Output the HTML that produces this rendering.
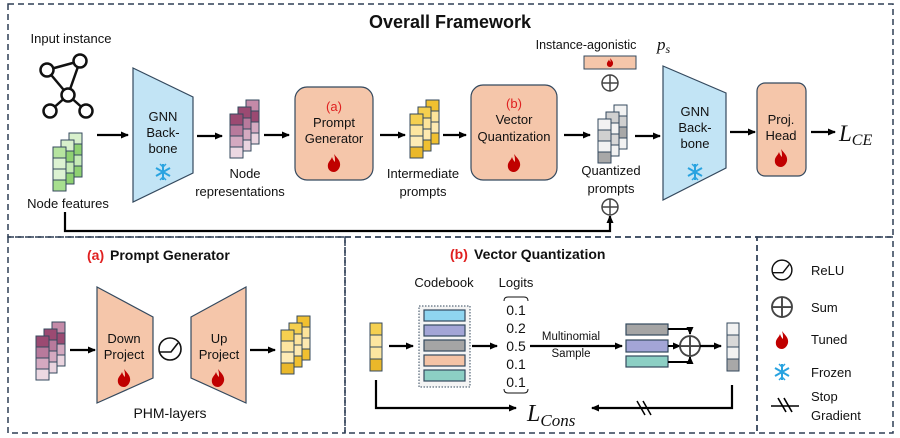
<!DOCTYPE html>
<html><head><meta charset="utf-8"><style>
html,body{margin:0;padding:0;background:#fff}
svg{display:block}
text{font-family:"Liberation Sans",sans-serif;fill:#111}
.b{font-weight:bold}
.m{font-family:"Liberation Serif",serif;font-style:italic}
</style></head><body>
<svg width="900" height="438" viewBox="0 0 900 438" xmlns="http://www.w3.org/2000/svg">
<defs>
<marker id="ar" markerWidth="8" markerHeight="8" refX="7" refY="4" orient="auto" markerUnits="userSpaceOnUse"><path d="M0,0.5 L8,4 L0,7.5Z" fill="#000"/></marker>
<g id="flame"><path d="M0,-9 C3,-5 7,-2 6,3 C5,7 2,9 0,9 C-4,9 -7,6 -6,1 C-5,-2 -3,-3 -2,-6 C-1,-3 0,-2 1,-1 C1,-4 1,-6 0,-9Z" fill="#c00000"/></g>
<g id="snow" stroke="#29a3e0" stroke-width="2" fill="none"><line x1="0" y1="-8" x2="0" y2="8"/><line x1="-7" y1="-4" x2="7" y2="4"/><line x1="-7" y1="4" x2="7" y2="-4"/><path d="M-3,-8 L0,-5 L3,-8 M-3,8 L0,5 L3,8" stroke-width="1.5"/></g>
<g id="plus"><circle r="8" fill="#fff" stroke="#444" stroke-width="1.5"/><line x1="-8" y1="0" x2="8" y2="0" stroke="#444" stroke-width="1.5"/><line x1="0" y1="-8" x2="0" y2="8" stroke="#444" stroke-width="1.5"/></g>
<g id="relu"><circle r="11" fill="#fff" stroke="#111" stroke-width="1.6"/><path d="M-10,3 L1,3 L8,-6" fill="none" stroke="#111" stroke-width="1.6"/></g>
<g id="col" stroke="#34495e" stroke-width="1"></g>
<g id="pstack" stroke="#34495e" stroke-width="1">
<rect x="16" y="0" width="13" height="11" fill="#c48aa8"/><rect x="16" y="11" width="13" height="11" fill="#9b4a72"/><rect x="16" y="22" width="13" height="11" fill="#d4a9c0"/><rect x="16" y="33" width="13" height="11" fill="#ead4df"/>
<rect x="8" y="7" width="13" height="11" fill="#9b4a72"/><rect x="8" y="18" width="13" height="11" fill="#b87a9c"/><rect x="8" y="29" width="13" height="11" fill="#d4a9c0"/><rect x="8" y="40" width="13" height="11" fill="#ead4df"/>
<rect x="0" y="14" width="13" height="11" fill="#9b4a72"/><rect x="0" y="25" width="13" height="11" fill="#b87a9c"/><rect x="0" y="36" width="13" height="11" fill="#d4a9c0"/><rect x="0" y="47" width="13" height="11" fill="#ecd8e2"/>
</g>
<g id="ystack" stroke="#34495e" stroke-width="1">
<rect x="16" y="0" width="13" height="11" fill="#f0c030"/><rect x="16" y="11" width="13" height="11" fill="#fde49a"/><rect x="16" y="22" width="13" height="11" fill="#fde9b0"/><rect x="16" y="33" width="13" height="11" fill="#f0c030"/>
<rect x="8" y="7" width="13" height="11" fill="#f5cf4e"/><rect x="8" y="18" width="13" height="11" fill="#fde49a"/><rect x="8" y="29" width="13" height="11" fill="#fde9b0"/><rect x="8" y="40" width="13" height="11" fill="#f0c030"/>
<rect x="0" y="14" width="13" height="11" fill="#f5d050"/><rect x="0" y="25" width="13" height="11" fill="#fde6a0"/><rect x="0" y="36" width="13" height="11" fill="#fdebb5"/><rect x="0" y="47" width="13" height="11" fill="#eab82a"/>
</g>
<g id="gstack" stroke="#34495e" stroke-width="1">
<rect x="16" y="0" width="13" height="11" fill="#d8f0cc"/><rect x="16" y="11" width="13" height="11" fill="#8fd172"/><rect x="16" y="22" width="13" height="11" fill="#c6ebb6"/><rect x="16" y="33" width="13" height="11" fill="#8fd172"/>
<rect x="8" y="7" width="13" height="11" fill="#d8f0cc"/><rect x="8" y="18" width="13" height="11" fill="#8fd172"/><rect x="8" y="29" width="13" height="11" fill="#c6ebb6"/><rect x="8" y="40" width="13" height="11" fill="#8fd172"/>
<rect x="0" y="14" width="13" height="11" fill="#b6e4a0"/><rect x="0" y="25" width="13" height="11" fill="#dcf2d2"/><rect x="0" y="36" width="13" height="11" fill="#dcf2d2"/><rect x="0" y="47" width="13" height="11" fill="#a7df8f"/>
</g>
<g id="qstack" stroke="#34495e" stroke-width="1">
<rect x="16" y="0" width="13" height="11" fill="#f2f2f2"/><rect x="16" y="11" width="13" height="11" fill="#d0d0d0"/><rect x="16" y="22" width="13" height="11" fill="#a8a8a8"/><rect x="16" y="33" width="13" height="11" fill="#f2f2f2"/>
<rect x="8" y="7" width="13" height="11" fill="#d0d0d0"/><rect x="8" y="18" width="13" height="11" fill="#f2f2f2"/><rect x="8" y="29" width="13" height="11" fill="#d8d8d8"/><rect x="8" y="40" width="13" height="11" fill="#f2f2f2"/>
<rect x="0" y="14" width="13" height="11" fill="#f2f2f2"/><rect x="0" y="25" width="13" height="11" fill="#d0d0d0"/><rect x="0" y="36" width="13" height="11" fill="#f2f2f2"/><rect x="0" y="47" width="13" height="11" fill="#a8a8a8"/>
</g>
</defs>

<!-- frames -->
<g fill="none" stroke="#2f3f55" stroke-width="1.5" stroke-dasharray="6,4">
<rect x="8" y="4" width="885" height="233"/>
<rect x="8" y="237" width="337" height="196"/>
<rect x="345" y="237" width="412" height="196"/>
<rect x="757" y="237" width="136" height="196"/>
</g>

<text x="450" y="28" font-size="18" class="b" text-anchor="middle">Overall Framework</text>

<!-- input graph -->
<text x="71" y="43" font-size="13" text-anchor="middle">Input instance</text>
<g stroke="#111" stroke-width="2.5" fill="#fff">
<line x1="47" y1="70" x2="80" y2="61"/><line x1="80" y1="61" x2="68" y2="95"/><line x1="47" y1="70" x2="68" y2="95"/><line x1="68" y1="95" x2="50" y2="111"/><line x1="68" y1="95" x2="86" y2="111"/>
<circle cx="47" cy="70" r="6.5"/><circle cx="80" cy="61" r="6.5"/><circle cx="68" cy="95" r="6.5"/><circle cx="50" cy="111" r="6.5"/><circle cx="86" cy="111" r="6.5"/>
</g>
<use href="#gstack" x="53" y="133"/>
<text x="68" y="208" font-size="13" text-anchor="middle">Node features</text>

<g stroke="#000" stroke-width="2.2" fill="none" marker-end="url(#ar)">
<line x1="97" y1="135" x2="128" y2="135"/>
<line x1="197" y1="136" x2="222" y2="136"/>
<line x1="264" y1="135" x2="289" y2="135"/>
<line x1="380" y1="135" x2="405" y2="135"/>
<line x1="443" y1="135" x2="466" y2="135"/>
<line x1="564" y1="135" x2="590" y2="135"/>
<line x1="635" y1="136" x2="660" y2="136"/>
<line x1="730" y1="132" x2="755" y2="132"/>
<line x1="811" y1="132" x2="835" y2="132"/>
<polyline points="65,212 65,231 610,231 610,216"/>
</g>

<!-- GNN 1 -->
<polygon points="133,68 193,97 193,173 133,202" fill="#c2e4f5" stroke="#34495e" stroke-width="1.2"/>
<text x="163" y="121" font-size="13" text-anchor="middle">GNN</text>
<text x="163" y="137" font-size="13" text-anchor="middle">Back-</text>
<text x="163" y="153" font-size="13" text-anchor="middle">bone</text>
<use href="#snow" x="163" y="172"/>

<use href="#pstack" x="230" y="100"/>
<text x="245" y="178" font-size="13" text-anchor="middle">Node</text>
<text x="240" y="196" font-size="13" text-anchor="middle">representations</text>

<rect x="295" y="87" width="78" height="93" rx="12" fill="#f5c6aa" stroke="#34495e" stroke-width="1.2"/>
<text x="334" y="111" font-size="13" fill="#e02020" style="fill:#e02020" text-anchor="middle">(a)</text>
<text x="334" y="127" font-size="13" text-anchor="middle">Prompt</text>
<text x="334" y="143" font-size="13" text-anchor="middle">Generator</text>
<use href="#flame" x="334" y="163"/>

<use href="#ystack" x="410" y="100"/>
<text x="423" y="178" font-size="13" text-anchor="middle">Intermediate</text>
<text x="423" y="196" font-size="13" text-anchor="middle">prompts</text>

<rect x="471" y="85" width="86" height="95" rx="12" fill="#f5c6aa" stroke="#34495e" stroke-width="1.2"/>
<text x="514" y="108" font-size="13" style="fill:#e02020" text-anchor="middle">(b)</text>
<text x="514" y="124" font-size="13" text-anchor="middle">Vector</text>
<text x="514" y="141" font-size="13" text-anchor="middle">Quantization</text>
<use href="#flame" x="514" y="163"/>

<text x="586" y="49" font-size="12.5" text-anchor="middle">Instance-agonistic</text>
<text x="657" y="50" font-size="17" class="m">p<tspan font-size="12" dy="3">s</tspan></text>
<rect x="584" y="56" width="52" height="13" fill="#f5c6aa" stroke="#34495e" stroke-width="1"/>
<use href="#flame" x="610" y="62.5" transform="translate(610,62.5) scale(0.5) translate(-610,-62.5)"/>
<use href="#plus" x="610" y="83"/>
<use href="#qstack" x="598" y="105"/>
<text x="611" y="175" font-size="13" text-anchor="middle">Quantized</text>
<text x="611" y="193" font-size="13" text-anchor="middle">prompts</text>
<use href="#plus" x="610" y="207"/>

<polygon points="663,66 726,93 726,168 663,200" fill="#c2e4f5" stroke="#34495e" stroke-width="1.2"/>
<text x="695" y="116" font-size="13" text-anchor="middle">GNN</text>
<text x="695" y="132" font-size="13" text-anchor="middle">Back-</text>
<text x="695" y="148" font-size="13" text-anchor="middle">bone</text>
<use href="#snow" x="695" y="172"/>

<rect x="757" y="83" width="49" height="93" rx="8" fill="#f5c6aa" stroke="#34495e" stroke-width="1.2"/>
<text x="781" y="124" font-size="13" text-anchor="middle">Proj.</text>
<text x="781" y="140" font-size="13" text-anchor="middle">Head</text>
<use href="#flame" x="781" y="158"/>
<text x="839" y="141" font-size="23" class="m">L<tspan font-size="16" dy="4">CE</tspan></text>

<!-- (a) prompt generator -->
<text x="87" y="260" font-size="14" class="b" style="fill:#e02020">(a)</text>
<text x="110" y="260" font-size="14" class="b">Prompt Generator</text>
<use href="#pstack" x="36" y="322"/>
<polygon points="97,287 153,317 153,378 97,403" fill="#f5c6aa" stroke="#34495e" stroke-width="1.2"/>
<text x="124" y="343" font-size="13" text-anchor="middle">Down</text>
<text x="124" y="359" font-size="13" text-anchor="middle">Project</text>
<use href="#flame" x="124" y="378"/>
<use href="#relu" x="170" y="349"/>
<polygon points="191,317 246,287 246,403 191,378" fill="#f5c6aa" stroke="#34495e" stroke-width="1.2"/>
<text x="219" y="343" font-size="13" text-anchor="middle">Up</text>
<text x="219" y="359" font-size="13" text-anchor="middle">Project</text>
<use href="#flame" x="218" y="378"/>
<use href="#ystack" x="281" y="316"/>
<text x="170" y="418" font-size="14" text-anchor="middle">PHM-layers</text>
<g stroke="#000" stroke-width="2.2" marker-end="url(#ar)"><line x1="70" y1="350" x2="95" y2="350"/><line x1="250" y1="350" x2="275" y2="350"/></g>

<!-- (b) VQ -->
<text x="450" y="259" font-size="14" class="b" style="fill:#e02020">(b)</text>
<text x="474" y="259" font-size="14" class="b">Vector Quantization</text>
<text x="444" y="287" font-size="13" text-anchor="middle">Codebook</text>
<text x="516" y="287" font-size="13" text-anchor="middle">Logits</text>
<g stroke="#34495e" stroke-width="1"><rect x="370" y="323" width="12" height="12" fill="#f5d050"/><rect x="370" y="335" width="12" height="12" fill="#fde6a0"/><rect x="370" y="347" width="12" height="12" fill="#fde6a0"/><rect x="370" y="359" width="12" height="12" fill="#eab82a"/></g>
<rect x="419" y="306" width="51" height="81" fill="#f4f4f4" stroke="#34495e" stroke-width="1" stroke-dasharray="1.5,1.5"/>
<g stroke="#34495e" stroke-width="1.2">
<rect x="424" y="310" width="41" height="11" fill="#8fd5f0"/><rect x="424" y="325" width="41" height="11" fill="#a3a5d6"/><rect x="424" y="340" width="41" height="11" fill="#a5a5a5"/><rect x="424" y="355" width="41" height="11" fill="#f4c3a5"/><rect x="424" y="370" width="41" height="11" fill="#8ccfc4"/>
</g>
<g font-size="14" text-anchor="middle"><text x="516" y="315">0.1</text><text x="516" y="333">0.2</text><text x="516" y="351">0.5</text><text x="516" y="369">0.1</text><text x="516" y="387">0.1</text></g>
<path d="M504,301 Q504,297 508,297 L524,297 Q528,297 528,301" fill="none" stroke="#111" stroke-width="1"/>
<path d="M504,389 Q504,393 508,393 L524,393 Q528,393 528,389" fill="none" stroke="#111" stroke-width="1"/>
<text x="571" y="340" font-size="11.5" text-anchor="middle">Multinomial</text>
<text x="571" y="357" font-size="11.5" text-anchor="middle">Sample</text>
<g stroke="#34495e" stroke-width="1.2">
<rect x="626" y="324" width="42" height="11" fill="#a5a5a5"/><rect x="626" y="340" width="42" height="12" fill="#a3a5d6"/><rect x="626" y="356" width="42" height="11" fill="#8ccfc4"/>
</g>
<g stroke="#000" stroke-width="2" fill="none">
<polyline points="668,329 690,329 690,334" marker-end="url(#ar)"/>
<line x1="668" y1="346" x2="680" y2="346" marker-end="url(#ar)"/>
<polyline points="668,362 690,362 690,357" marker-end="url(#ar)"/>
</g>
<use href="#plus" x="690" y="346" transform="translate(690,346) scale(1.25) translate(-690,-346)"/>
<g stroke="#34495e" stroke-width="1"><rect x="727" y="323" width="12" height="12" fill="#f2f2f2"/><rect x="727" y="335" width="12" height="12" fill="#d8d8d8"/><rect x="727" y="347" width="12" height="12" fill="#f2f2f2"/><rect x="727" y="359" width="12" height="12" fill="#a8a8a8"/></g>
<g stroke="#000" stroke-width="2.2" fill="none" marker-end="url(#ar)">
<line x1="389" y1="346" x2="413" y2="346"/>
<line x1="472" y1="346" x2="497" y2="346"/>
<line x1="530" y1="346" x2="622" y2="346"/>
<line x1="700" y1="346" x2="721" y2="346"/>
<polyline points="376,380 376,408 516,408"/>
<polyline points="732,385 732,408 592,408"/>
</g>
<g stroke="#000" stroke-width="1.5"><line x1="637" y1="401" x2="645" y2="415"/><line x1="643" y1="401" x2="651" y2="415"/></g>
<text x="527" y="421" font-size="24" class="m">L<tspan font-size="17" dy="5">Cons</tspan></text>

<!-- legend -->
<use href="#relu" x="782" y="270" transform="translate(782,270) scale(0.9) translate(-782,-270)"/>
<text x="811" y="275" font-size="13">ReLU</text>
<use href="#plus" x="782" y="307" transform="translate(782,307) scale(1.25) translate(-782,-307)"/>
<text x="811" y="312" font-size="13">Sum</text>
<use href="#flame" x="782" y="340"/>
<text x="811" y="344" font-size="13">Tuned</text>
<use href="#snow" x="782" y="372"/>
<text x="811" y="377" font-size="13">Frozen</text>
<g stroke="#000" stroke-width="1.6"><line x1="771" y1="406" x2="799" y2="406"/><line x1="778" y1="398" x2="786" y2="412"/><line x1="784" y1="398" x2="792" y2="412"/></g>
<text x="811" y="401" font-size="13">Stop</text>
<text x="811" y="420" font-size="13">Gradient</text>
</svg>
</body></html>
